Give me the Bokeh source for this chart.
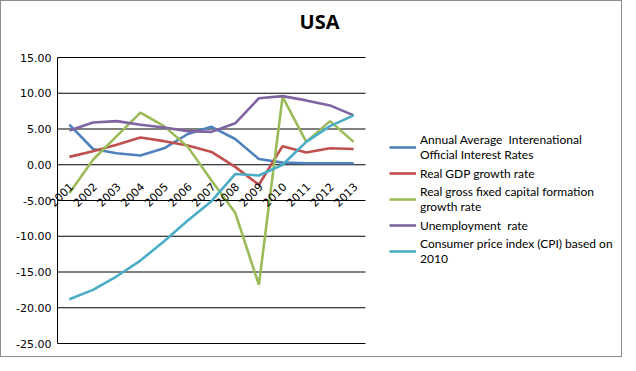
from bokeh.plotting import figure
from bokeh.models import Legend, LegendItem, ColumnDataSource, Range1d, Label
from bokeh.core.properties import value
from bokeh.embed import file_html
from bokeh.resources import INLINE
import math

years = ["2001", "2002", "2003", "2004", "2005", "2006", "2007",
         "2008", "2009", "2010", "2011", "2012", "2013"]
interest_rate = [5.6, 2.2, 1.6, 1.3, 2.3, 4.3, 5.3, 3.6, 0.8, 0.3, 0.2, 0.2, 0.2]
gdp_growth = [1.1, 1.9, 2.8, 3.8, 3.3, 2.7, 1.8, -0.3, -2.8, 2.6, 1.7, 2.3, 2.2]
gfcf_growth = [-4.0, 0.7, 4.0, 7.3, 5.4, 2.5, -2.2, -6.7, -16.8, 9.5, 3.2, 6.1, 3.2]
unemployment = [4.8, 5.9, 6.1, 5.6, 5.2, 4.7, 4.6, 5.8, 9.3, 9.6, 9.0, 8.3, 6.9]
cpi = [-18.8, -17.5, -15.6, -13.4, -10.7, -7.8, -5.1, -1.3, -1.5, 0.0, 3.2, 5.4, 6.9]

series_labels = [
    "Annual Average  Interenational\nOfficial Interest Rates",
    "Real GDP growth rate",
    "Real gross fixed capital formation\ngrowth rate",
    "Unemployment  rate",
    "Consumer price index (CPI) based on\n2010",
]
series_values = [interest_rate, gdp_growth, gfcf_growth, unemployment, cpi]
colors = ["#4F81BD", "#C0504D", "#9BBB59", "#8064A2", "#4BACC6"]
y_ticks = [-25, -20, -15, -10, -5, 0, 5, 10, 15]
y_tick_labels = [f"{v:.2f}" for v in y_ticks]
y_min, y_max = y_ticks[0], y_ticks[-1]

# layout (pixels)
W, H = 620, 355
LEFT = 56                      # plot area left edge
PLOT_W, PLOT_H, PLOT_TOP = 308, 286, 56
BOTTOM = H - PLOT_TOP - PLOT_H

n = len(years)
xs = [i + 0.5 for i in range(n)]
span = y_max - y_min
x_range = Range1d(-n * LEFT / PLOT_W, n * (W - LEFT) / PLOT_W)
y_range = Range1d(y_min - span * BOTTOM / PLOT_H, y_max + span * PLOT_TOP / PLOT_H)

p = figure(frame_width=W, frame_height=H, x_range=x_range, y_range=y_range,
           x_axis_location=None, y_axis_location=None,
           output_backend="svg", toolbar_location=None,
           min_border=0, outline_line_color=None,
           styles={"border": "1px solid #8c8c8c"})
p.xgrid.visible = False
p.ygrid.visible = False

# horizontal gridlines spanning the category area
p.segment(x0=[0] * len(y_ticks), x1=[n] * len(y_ticks), y0=y_ticks, y1=y_ticks,
          line_color="#000000", line_width=1)
# value axis line
p.segment(x0=[0], x1=[0], y0=[y_min], y1=[y_max], line_color="#000000", line_width=1)
# value axis tick labels
p.text(x=[0] * len(y_ticks), y=y_ticks, text=y_tick_labels, x_offset=-6,
       text_align="right", text_baseline="middle",
       text_font=value("DejaVu Sans"), text_font_size="11px", text_color="#000000")

items = []
for label, vals, col in zip(series_labels, series_values, colors):
    r = p.line(x=xs, y=vals, line_color=col, line_width=2.6)
    items.append(LegendItem(label=label, renderers=[r]))

# category labels along the zero line
src = ColumnDataSource(dict(x=xs, y=[0] * n, t=years))
p.text(x="x", y="y", text="t", source=src, angle=math.pi / 4,
       text_align="right", text_baseline="middle", x_offset=2, y_offset=20,
       text_font=value("DejaVu Sans"), text_font_size="11px", text_color="#000000")

# chart title
p.add_layout(Label(x=LEFT + 262, y=H - 20, x_units="screen", y_units="screen",
                   text="USA", text_align="center", text_baseline="middle",
                   text_font="Open Sans", text_font_size="20px",
                   text_font_style="bold", text_color="#000000"))

legend = Legend(items=items, location=(LEFT + 332, BOTTOM + 77),
                border_line_color=None, background_fill_alpha=0,
                label_text_font="Lato", label_text_font_size="12px",
                label_text_color="#000000", glyph_width=27, glyph_height=14,
                label_standoff=4, spacing=3, padding=0, margin=0,
                label_height=16, label_text_line_height=1.37)
p.add_layout(legend, "center")

open("out.html", "w").write(file_html(p, INLINE))
